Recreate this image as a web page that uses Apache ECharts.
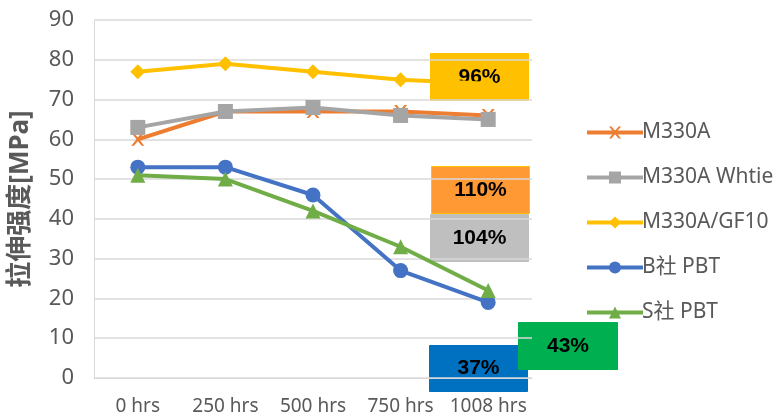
<!DOCTYPE html>
<html>
<head>
<meta charset="utf-8">
<script src="https://cdn.jsdelivr.net/npm/echarts@6/dist/echarts.min.js"></script>
<style>
  html, body { margin: 0; padding: 0; background: #fff; }
  #chart { width: 778px; height: 417px; }
</style>
</head>
<body>
<div id="chart"></div>
<script>
// Tensile strength over aging time
const categories = ['0 hrs', '250 hrs', '500 hrs', '750 hrs', '1008 hrs'];
const seriesNames = ['M330A', 'M330A Whtie', 'M330A/GF10', 'B社 PBT', 'S社 PBT'];
const m330a = [60, 67, 67, 67, 66];
const m330aWhite = [63, 67, 68, 66, 65];
const m330aGf10 = [77, 79, 77, 75, 74];
const bPbt = [53, 53, 46, 27, 19];
const sPbt = [51, 50, 42, 33, 22];
const yTicks = [0, 90, 10]; // min, max, interval
const retentionLabels = ['96%', '110%', '104%', '37%', '43%'];

const FONT = '"Noto Sans", "Noto Sans CJK SC", sans-serif';
const TEXT = '#595959';
const crossPath = 'path://M0,0 L2,0 L5,3.5 L8,0 L10,0 L6,5 L10,10 L8,10 L5,6.5 L2,10 L0,10 L4,5 Z';

function line(name, data, color, symbol, size) {
  return {
    name, type: 'line', data,
    symbol, symbolSize: size,
    lineStyle: { color, width: 4 },
    itemStyle: { color },
    z: 3
  };
}

const chart = echarts.init(document.getElementById('chart'));

function box(text, x, y, w, h, fill, stroke) {
  return {
    type: 'group', left: x, top: y, z: 100,
    children: [
      { type: 'rect', shape: { x: 0, y: 0, width: w, height: h },
        style: { fill, stroke: stroke || fill, lineWidth: 1 } },
      { type: 'text', style: { text, x: w / 2, y: h / 2, align: 'center', verticalAlign: 'middle',
          font: 'bold 21px "Liberation Sans", Arial, sans-serif', fill: '#000' } }
    ]
  };
}

chart.setOption({
  animation: false,
  backgroundColor: '#fff',
  grid: { left: 94, right: 246, top: 20, bottom: 39 },
  legend: {
    orient: 'vertical', left: 580, top: 117,
    itemWidth: 56, itemHeight: 15, itemGap: 24,
    lineStyle: { width: 4 },
    textStyle: { fontFamily: FONT, fontSize: 21, color: TEXT, padding: [0, 0, 0, -6] },
    data: seriesNames
  },
  xAxis: {
    type: 'category', data: categories, boundaryGap: true,
    axisLine: { lineStyle: { color: '#D9D9D9', width: 1 } },
    axisTick: { show: false },
    axisLabel: { interval: 0, fontFamily: FONT, fontSize: 19, color: TEXT, margin: 19 }
  },
  yAxis: {
    type: 'value', min: yTicks[0], max: yTicks[1], interval: yTicks[2],
    name: '拉伸强度[MPa]', nameLocation: 'middle', nameGap: 60, nameRotate: 90,
    nameTextStyle: { fontFamily: FONT, fontSize: 26, color: TEXT, fontWeight: 'bold' },
    axisLine: { show: true, lineStyle: { color: '#D9D9D9', width: 1 } },
    axisTick: { show: false },
    axisLabel: { fontFamily: FONT, fontSize: 22, color: TEXT, margin: 20 },
    splitLine: { lineStyle: { color: '#D9D9D9', width: 1.5 } }
  },
  series: [
    line(seriesNames[0], m330a, '#ED7D31', crossPath, 13),
    line(seriesNames[1], m330aWhite, '#A5A5A5', 'rect', 15),
    line(seriesNames[2], m330aGf10, '#FFC000', 'diamond', 15),
    line(seriesNames[3], bPbt, '#4472C4', 'circle', 15),
    line(seriesNames[4], sPbt, '#70AD47', 'triangle', 15)
  ],
  graphic: [
    box(retentionLabels[0], 430, 53, 98, 47, '#FFC000'),
    box(retentionLabels[1], 431, 166, 98, 47, '#FF9933', '#FFC000'),
    box(retentionLabels[2], 430, 214, 98, 47, '#BFBFBF'),
    box(retentionLabels[3], 429, 345, 98, 46, '#0070C0'),
    box(retentionLabels[4], 518, 322, 99, 47, '#00B050')
  ]
});
</script>
</body>
</html>
